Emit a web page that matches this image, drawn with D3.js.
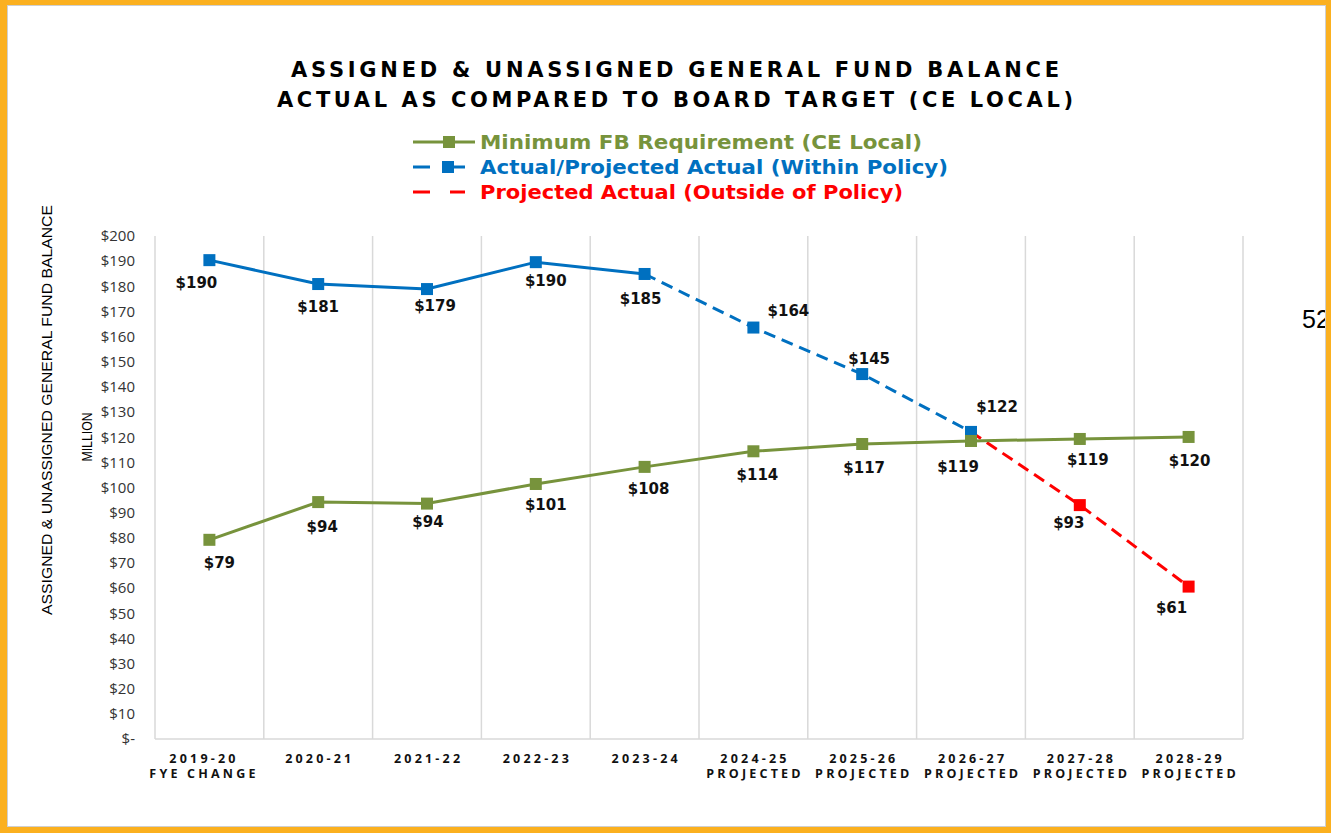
<!DOCTYPE html>
<html>
  <head>
    <meta charset="UTF-8" />
    <script src="https://cdnjs.cloudflare.com/ajax/libs/d3/7.8.5/d3.min.js"></script>
    <style>
      body {
        margin: 0;
        background: #fff;
      }
      .grid line {
        stroke: #d9d9d9;
        stroke-width: 1.5;
      }
      .y-axis text {
        font-family: "Open Sans", sans-serif;
        font-size: 15px;
        fill: #333;
      }
      .x-label {
        font-family: "Open Sans", sans-serif;
        font-weight: bold;
        font-size: 12.5px;
        letter-spacing: 3.2px;
        fill: #111;
      }
      .data-label {
        font-family: "DejaVu Sans", sans-serif;
        font-weight: bold;
        font-size: 15px;
        fill: #111;
      }
    </style>
  </head>
  <body>
    <div id="viz"><svg width="1331" height="833"></svg></div>
    <script>
      // ---- data ----
      const categories = ["2019-20", "2020-21", "2021-22", "2022-23", "2023-24",
        "2024-25", "2025-26", "2026-27", "2027-28", "2028-29"];
      const categorySub = ["FYE CHANGE", "", "", "", "", "PROJECTED",
        "PROJECTED", "PROJECTED", "PROJECTED", "PROJECTED"];
      const minimumFB = [79.2, 94.2, 93.6, 101.4, 108.2, 114.4, 117.3, 118.5, 119.3, 120.1];
      const actualWithin = [190.4, 180.9, 178.9, 189.6, 184.9, 163.6, 145.1, 122.1, null, null];
      const actualOutside = [null, null, null, null, null, null, null, 122.1, 93.0, 60.6];
      const yTickValues = [0, 10, 20, 30, 40, 50, 60, 70, 80, 90, 100,
        110, 120, 130, 140, 150, 160, 170, 180, 190, 200];
      const legendLabels = ["Minimum FB Requirement (CE Local)",
        "Actual/Projected Actual (Within Policy)",
        "Projected Actual (Outside of Policy)"];
      const titleLines = ["ASSIGNED & UNASSIGNED GENERAL FUND BALANCE",
        "ACTUAL AS COMPARED TO BOARD TARGET (CE LOCAL)"];

      // label offsets (dx, dy from the marker)
      const greenLabelOffsets = [[10, 28], [4, 30], [1, 23], [10, 26], [4, 27],
        [4, 29], [2, 29], [-13, 31], [8, 26], [1, 29]];
      const blueLabelOffsets = [[-13, 28], [0, 28], [8, 22], [10, 24], [-4, 30],
        [35, -12], [7, -10], [26, -20]];
      const redLabelOffsets = { 8: [-11, 23], 9: [-17, 26] };

      const green = "#77933c",
        blue = "#0070c0",
        red = "#ff0000";

      const svg = d3.select("svg");

      const xScale = d3.scaleBand().domain(categories).range([155, 1243]).padding(0),
        yScale = d3.scaleLinear().domain([0, 200]).range([739, 236]),
        cx = (d, i) => xScale(categories[i]) + xScale.bandwidth() / 2;

      // "52" page number, partly under the border
      svg.append("text")
        .attr("x", 1302)
        .attr("y", 328)
        .style("font-family", "Liberation Sans, Arial, sans-serif")
        .style("font-size", "25px")
        .text("52");

      // title
      svg.selectAll("text.title")
        .data(titleLines)
        .enter()
        .append("text")
        .attr("class", "title")
        .attr("x", 675)
        .attr("y", (d, i) => 77 + i * 30)
        .attr("text-anchor", "middle")
        .attr("textLength", (d, i) => i === 0 ? 768 : 796)
        .attr("lengthAdjust", "spacing")
        .style("font-family", "DejaVu Sans, sans-serif")
        .style("font-weight", "bold")
        .style("font-size", "21px")
        .style("fill", "#000")
        .text(d => d);

      // legend
      const legendColors = [green, blue, red],
        legendWidths = [442, 468, 423];
      const legend = svg.selectAll("g.legend")
        .data(legendLabels)
        .enter()
        .append("g")
        .attr("class", "legend")
        .attr("transform", (d, i) => `translate(0, ${142 + i * 25})`);

      legend.append("line")
        .attr("x1", 413)
        .attr("x2", (d, i) => i === 0 ? 475 : 465)
        .attr("stroke", (d, i) => legendColors[i])
        .attr("stroke-width", 3)
        .attr("stroke-dasharray", (d, i) => i === 0 ? null : i === 1 ? "17,33" : "17,20");
      legend.filter((d, i) => i < 2)
        .append("rect")
        .attr("x", (d, i) => i === 0 ? 443 : 442)
        .attr("y", -6)
        .attr("width", 12)
        .attr("height", 12)
        .attr("fill", (d, i) => legendColors[i]);
      legend.filter((d, i) => i === 1)
        .append("line")
        .attr("x1", 452)
        .attr("x2", 463)
        .attr("stroke", blue)
        .attr("stroke-width", 3);
      legend.append("text")
        .attr("x", 480)
        .attr("y", 7)
        .attr("textLength", (d, i) => legendWidths[i])
        .attr("lengthAdjust", "spacingAndGlyphs")
        .style("font-family", "DejaVu Sans, sans-serif")
        .style("font-weight", "bold")
        .style("font-size", "19px")
        .style("fill", (d, i) => legendColors[i])
        .text(d => d);

      // vertical gridlines at category boundaries
      const bounds = categories.map(c => xScale(c)).concat([xScale.range()[1]]);
      svg.append("g")
        .attr("class", "grid")
        .selectAll("line")
        .data(bounds)
        .enter()
        .append("line")
        .attr("x1", d => d)
        .attr("x2", d => d)
        .attr("y1", yScale(200))
        .attr("y2", yScale(0));

      svg.append("g")
        .attr("class", "grid")
        .append("line")
        .attr("x1", 155)
        .attr("x2", 1243)
        .attr("y1", yScale(0))
        .attr("y2", yScale(0));

      // y axis labels
      const yAxis = d3.axisLeft(yScale)
        .tickValues(yTickValues)
        .tickSize(0)
        .tickPadding(20)
        .tickFormat(d => d === 0 ? "$-" : "$" + d);
      svg.append("g")
        .attr("class", "y-axis")
        .attr("transform", "translate(155, 0)")
        .call(yAxis)
        .call(g => g.select(".domain").remove());

      // axis titles
      svg.append("text")
        .attr("transform", "translate(52, 410) rotate(-90)")
        .attr("text-anchor", "middle")
        .attr("textLength", 410)
        .attr("lengthAdjust", "spacingAndGlyphs")
        .style("font-family", "Liberation Sans Narrow, Arial Narrow, sans-serif")
        .style("font-size", "15px")
        .style("fill", "#000")
        .text("ASSIGNED & UNASSIGNED GENERAL FUND BALANCE");
      svg.append("text")
        .attr("transform", "translate(92, 437) rotate(-90)")
        .attr("text-anchor", "middle")
        .attr("textLength", 49)
        .attr("lengthAdjust", "spacingAndGlyphs")
        .style("font-family", "Liberation Sans Narrow, Arial Narrow, sans-serif")
        .style("font-size", "14px")
        .style("fill", "#000")
        .text("MILLION");

      // x labels
      const xl = svg.selectAll("g.xlab")
        .data(categories)
        .enter()
        .append("g")
        .attr("class", "xlab")
        .attr("transform", (d, i) => `translate(${cx(d, i) + 1.6 - (i === 0 ? 7 : 0)}, 0)`);
      xl.append("text")
        .attr("class", "x-label")
        .attr("y", 763)
        .attr("text-anchor", "middle")
        .text(d => d);
      xl.append("text")
        .attr("class", "x-label")
        .attr("y", 778)
        .attr("text-anchor", "middle")
        .text((d, i) => categorySub[i]);

      // lines
      const line = d3.line()
        .defined(d => d != null)
        .x((d, i) => cx(d, i))
        .y(d => yScale(d));

      const blueSolid = actualWithin.map((v, i) => i <= 4 ? v : null),
        blueDashed = actualWithin.map((v, i) => i >= 4 ? v : null);

      svg.append("path")
        .datum(blueSolid)
        .attr("d", line)
        .attr("fill", "none")
        .attr("stroke", blue)
        .attr("stroke-width", 3);
      svg.append("path")
        .datum(blueDashed)
        .attr("d", line)
        .attr("fill", "none")
        .attr("stroke", blue)
        .attr("stroke-width", 3)
        .attr("stroke-dasharray", "12,7");
      svg.append("path")
        .datum(actualOutside)
        .attr("d", line)
        .attr("fill", "none")
        .attr("stroke", red)
        .attr("stroke-width", 3)
        .attr("stroke-dasharray", "12,7");
      svg.append("path")
        .datum(minimumFB)
        .attr("d", line)
        .attr("fill", "none")
        .attr("stroke", green)
        .attr("stroke-width", 3);

      // markers
      function markers(values, color, skip) {
        svg.append("g")
          .selectAll("rect")
          .data(values.map((v, i) => ({ v, i })).filter(d => d.v != null && !(skip && skip(d.i))))
          .enter()
          .append("rect")
          .attr("x", d => cx(d.v, d.i) - 6)
          .attr("y", d => yScale(d.v) - 6)
          .attr("width", 12)
          .attr("height", 12)
          .attr("fill", color);
      }
      markers(actualWithin, blue);
      markers(actualOutside, red, i => i === 7);
      markers(minimumFB, green);

      // data labels
      function labels(values, offsets) {
        svg.append("g")
          .selectAll("text")
          .data(values.map((v, i) => ({ v, i })).filter(d => d.v != null && offsets[d.i]))
          .enter()
          .append("text")
          .attr("class", "data-label")
          .attr("x", d => cx(d.v, d.i) + offsets[d.i][0])
          .attr("y", d => yScale(d.v) + offsets[d.i][1])
          .attr("text-anchor", "middle")
          .text(d => "$" + Math.round(d.v));
      }
      labels(minimumFB, greenLabelOffsets);
      labels(actualWithin, blueLabelOffsets);
      labels(actualOutside, redLabelOffsets);

      // orange frame
      svg.append("rect")
        .attr("x", 7.5)
        .attr("y", 5.5)
        .attr("width", 1318)
        .attr("height", 821)
        .attr("fill", "none")
        .attr("stroke", "#cfcfcf")
        .attr("stroke-width", 1);
      svg.append("path")
        .attr("d", "M0,0H1331V833H0Z M7,5V827H1326V5Z")
        .attr("fill", "#fbb01f")
        .attr("fill-rule", "evenodd");
    </script>
  </body>
</html>
